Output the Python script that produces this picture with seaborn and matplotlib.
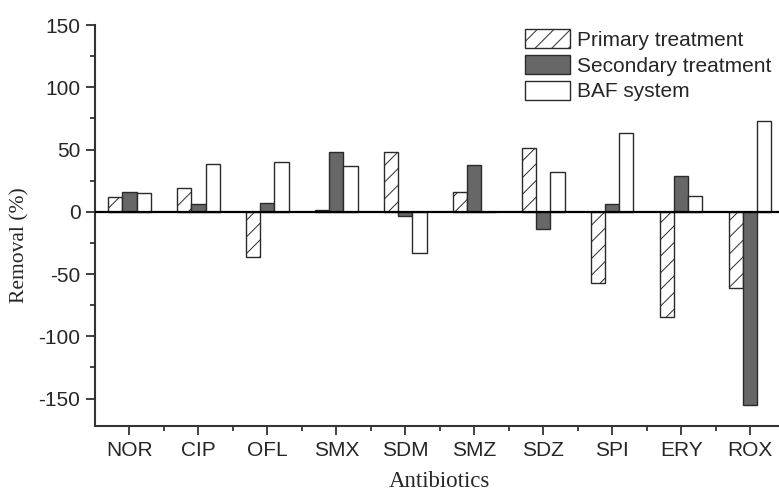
import numpy as np
import pandas as pd
import seaborn as sns
import matplotlib
matplotlib.use('Agg')
import matplotlib.pyplot as plt
from matplotlib.patches import Patch
from matplotlib.ticker import MultipleLocator

antibiotics = ['NOR', 'CIP', 'OFL', 'SMX', 'SDM', 'SMZ', 'SDZ', 'SPI', 'ERY', 'ROX']
primary = [11.5, 19.5, -36.4, 1.8, 48.2, 16.0, 51.1, -57.5, -84.8, -61.5]
secondary = [15.8, 6.4, 6.7, 47.9, -3.7, 37.5, -13.9, 6.2, 28.4, -155.2]
baf = [15.2, 38.3, 40.1, 36.7, -32.9, 0.0, 31.9, 63.2, 12.8, 72.8]
series = ['Primary treatment', 'Secondary treatment', 'BAF system']

df = pd.DataFrame({
    'Antibiotics': antibiotics * 3,
    'Removal': primary + secondary + baf,
    'Stage': np.repeat(series, len(antibiotics)),
})

sns.set_style('white')
plt.rcParams['font.family'] = ['Liberation Sans', 'DejaVu Sans']
plt.rcParams['axes.unicode_minus'] = False
plt.rcParams['hatch.linewidth'] = 0.7
plt.rcParams['hatch.color'] = '#333333'

W, H = 779, 493
fig = plt.figure(figsize=(W / 100, H / 100), dpi=100)
ax = fig.add_axes([95 / W, (H - 426) / H, (784.5 - 95) / W, (426 - 25) / H])

edge = '#2a2a2a'
fills = {'Primary treatment': 'white', 'Secondary treatment': '#676767', 'BAF system': 'white'}
sns.barplot(data=df, x='Antibiotics', y='Removal', hue='Stage', hue_order=series,
            palette=fills, width=0.62, saturation=1, edgecolor=edge, linewidth=1.0,
            legend=False, ax=ax)
for bar in ax.containers[0]:
    bar.set_hatch('//')

ax.axhline(0, color='black', lw=1.6, zorder=5)
ax.set_xlim(-0.5, 9.5)
ax.set_ylim(-172, 150)
ax.yaxis.set_major_locator(MultipleLocator(50))
ax.yaxis.set_minor_locator(MultipleLocator(25))
ax.set_xticks(np.arange(10) + 0.5, minor=True)

for s in ['top', 'right']:
    ax.spines[s].set_visible(False)
for s in ['left', 'bottom']:
    ax.spines[s].set_color('#333333')
    ax.spines[s].set_linewidth(1.5)

ax.tick_params(axis='both', which='major', direction='out', length=6.5, width=1.3,
               color='#333333', labelsize=15, left=True, bottom=True, pad=4)
ax.tick_params(axis='both', which='minor', direction='out', length=3.3, width=1.3,
               color='#333333', left=True, bottom=True)

ax.set_xlabel('Antibiotics', family='Liberation Serif', fontsize=16.5, labelpad=8)
ax.set_ylabel('Removal (%)', family='Liberation Serif', fontsize=15.5)
ax.yaxis.set_label_coords(-0.095, 0.45)

handles = [Patch(facecolor='white', edgecolor=edge, hatch='//'),
           Patch(facecolor='#676767', edgecolor=edge),
           Patch(facecolor='white', edgecolor=edge)]
ax.legend(handles, series, loc='upper left', bbox_to_anchor=(0.6236, 0.99),
          frameon=False, fontsize=15, handlelength=2.16, handleheight=1.05,
          handletextpad=0.33, labelspacing=0.24, borderaxespad=0, borderpad=0)

fig.savefig('out.png', dpi=100)
